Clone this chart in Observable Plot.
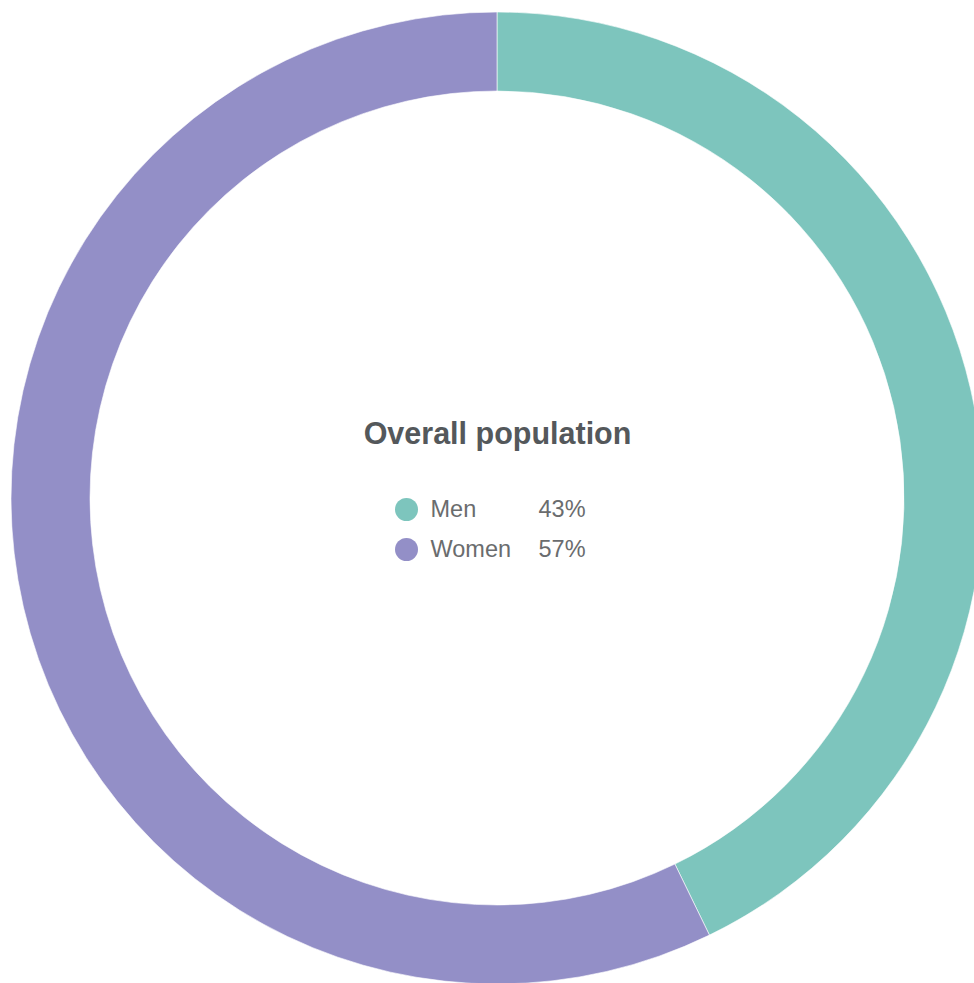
<!DOCTYPE html>
<html>
<head>
<meta charset="utf-8">
<script src="https://cdn.jsdelivr.net/npm/d3@7"></script>
<script src="https://cdn.jsdelivr.net/npm/@observablehq/plot@0.6"></script>
<style>
  html, body { margin: 0; padding: 0; background: #fff; }
  #chart svg { display: block; }
</style>
</head>
<body>
<div id="chart"></div>
<script>
// Data
const categories = ["Men", "Women"];
const shares = [42.8, 57.2];
const labels = ["43%", "57%"];
const colors = ["#7dc5bd", "#938fc7"];
const title = "Overall population";

const data = categories.map((c, i) => ({category: c, value: shares[i], label: labels[i], row: i}));

const W = 974, H = 983;
const cx = 497, cy = 498, outerR = 486, innerR = 407;

const colorScale = Plot.scale({color: {type: "ordinal", domain: categories, range: colors}});

const donut = (index, scales) => {
  const color = (scales && typeof scales.color === "function") ? scales.color : (d) => colorScale.apply(d);
  const pie = d3.pie().sort(null).value(d => d.value)(data);
  const arc = d3.arc().innerRadius(innerR).outerRadius(outerR);
  const g = d3.create("svg:g").attr("transform", `translate(${cx},${cy})`);
  g.selectAll("path").data(pie).join("path")
    .attr("d", arc)
    .attr("fill", d => color(d.data.category))
    .attr("stroke", "#fff")
    .attr("stroke-width", 0.6);
  return g.node();
};

const chart = Plot.plot({
  width: W,
  height: H,
  margin: 0,
  style: {fontFamily: "'Liberation Sans', Arial, sans-serif", background: "#fff"},
  x: {type: "identity", axis: null},
  y: {type: "identity", axis: null},
  color: {type: "ordinal", domain: categories, range: colors},
  marks: [
    donut,
    Plot.text([title], {x: () => cx, y: () => 443, text: d => d, fontSize: 30.5, fontWeight: "bold", fill: "#54585b", textAnchor: "middle", lineAnchor: "bottom"}),
    Plot.dot(data, {x: () => 406, y: d => 509 + d.row * 40, r: 11.5, fill: "category", stroke: null}),
    Plot.text(data, {x: () => 430, y: d => 516 + d.row * 40, text: "category", fontSize: 23.5, fill: "#6a6c6e", textAnchor: "start", lineAnchor: "bottom"}),
    Plot.text(data, {x: () => 538, y: d => 516 + d.row * 40, text: "label", fontSize: 23.5, fill: "#6a6c6e", textAnchor: "start", lineAnchor: "bottom"})
  ]
});

document.getElementById("chart").appendChild(chart);
</script>
</body>
</html>
